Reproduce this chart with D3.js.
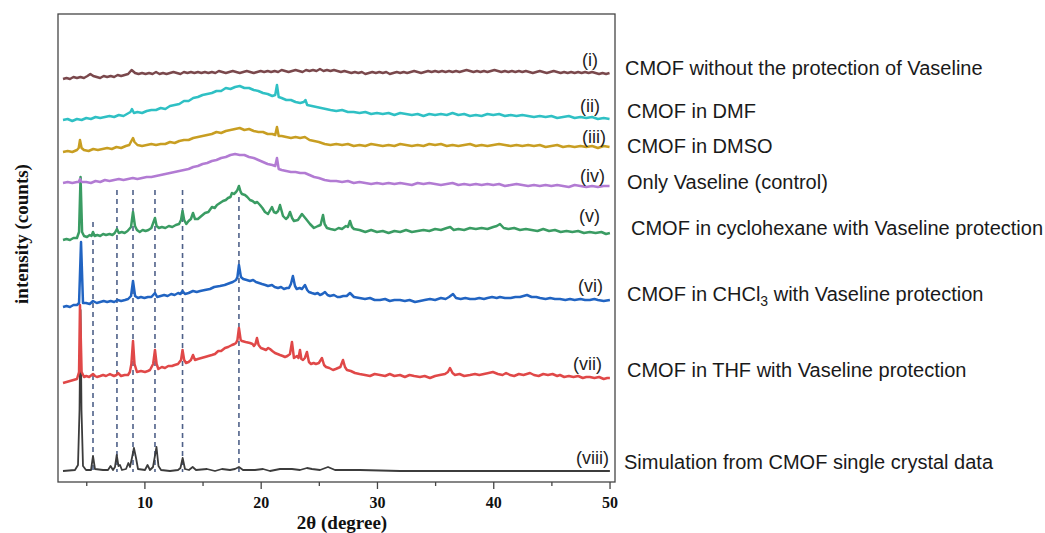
<!DOCTYPE html>
<html>
<head>
<meta charset="utf-8">
<script src="https://cdn.jsdelivr.net/npm/d3@7"></script>
<style>
  html, body { margin: 0; padding: 0; background: #ffffff; }
  svg { display: block; }
</style>
</head>
<body>
<svg id="chart" width="1045" height="533"></svg>
<script>
// ---------------- DATA ----------------
// 2θ (degree) vs stacked intensity (arbitrary counts, already offset)
const seriesI = [[3.0,403],[3.3,404],[3.6,403],[3.9,405],[4.2,404],[4.5,405],[4.8,404],[5.1,406],[5.35,408],[5.6,406],[5.9,405],[6.2,404],[6.5,406],[6.8,405],[7.1,406],[7.4,405],[7.7,407],[8.0,406],[8.3,407],[8.6,408],[8.9,412],[9.2,409],[9.5,408],[9.8,409],[10.1,408],[10.4,409],[10.7,408],[11.0,410],[11.3,408],[11.6,409],[11.9,408],[12.2,409],[12.5,410],[12.8,409],[13.1,408],[13.4,410],[13.7,409],[14.0,410],[14.3,409],[14.6,410],[14.9,409],[15.2,410],[15.5,409],[15.8,410],[16.1,409],[16.4,411],[16.7,410],[17.0,409],[17.3,410],[17.6,411],[17.9,410],[18.2,409],[18.5,410],[18.8,411],[19.1,410],[19.4,409],[19.7,410],[20.0,411],[20.3,410],[20.6,411],[20.9,410],[21.2,411],[21.5,410],[21.8,412],[22.1,411],[22.4,410],[22.7,411],[23.0,412],[23.3,411],[23.6,410],[23.9,412],[24.2,411],[24.5,412],[24.8,411],[25.1,413],[25.4,411],[25.7,412],[26.0,411],[26.3,412],[26.6,411],[26.9,410],[27.2,411],[27.5,410],[27.8,409],[28.1,410],[28.4,409],[28.7,410],[29.0,408],[29.3,409],[29.6,410],[29.9,409],[30.2,410],[30.5,409],[30.8,410],[31.1,408],[31.4,409],[31.7,410],[32.0,409],[32.3,410],[32.6,409],[32.9,410],[33.2,411],[33.5,410],[33.8,409],[34.1,410],[34.4,411],[34.7,410],[35.0,411],[35.3,410],[35.6,411],[35.9,410],[36.2,411],[36.5,410],[36.8,411],[37.1,410],[37.4,411],[37.7,412],[38.0,411],[38.3,410],[38.6,411],[38.9,410],[39.2,411],[39.5,410],[39.8,411],[40.1,412],[40.4,411],[40.7,410],[41.0,411],[41.3,410],[41.6,411],[41.9,410],[42.2,411],[42.5,410],[42.8,411],[43.1,410],[43.4,409],[43.7,410],[44.0,411],[44.3,410],[44.6,409],[44.9,410],[45.2,411],[45.5,410],[45.8,409],[46.1,410],[46.4,409],[46.7,410],[47.0,409],[47.3,410],[47.6,409],[47.9,410],[48.2,409],[48.5,410],[48.8,409],[49.1,408],[49.4,409],[49.7,408],[50.0,409]];

const seriesII = [[3.0,362],[3.4,363],[3.8,361],[4.2,363],[4.6,362],[5.0,364],[5.4,363],[5.8,365],[6.2,364],[6.6,365],[7.0,366],[7.4,365],[7.8,367],[8.2,366],[8.5,368],[8.8,370],[8.93,373],[9.1,369],[9.4,370],[9.8,369],[10.2,371],[10.6,372],[11.0,372],[11.4,374],[11.8,373],[12.2,376],[12.6,377],[13.0,378],[13.4,381],[13.8,381],[14.2,384],[14.6,385],[15.0,387],[15.4,388],[15.8,389],[16.2,391],[16.6,391],[17.0,394],[17.4,393],[17.8,395],[18.2,396],[18.6,394],[19.0,394],[19.4,392],[19.8,391],[20.2,389],[20.6,388],[21.0,386],[21.25,387],[21.4,397],[21.55,385],[21.8,384],[22.2,382],[22.6,382],[23.0,380],[23.4,379],[23.7,380],[23.85,382],[24.0,377],[24.4,376],[24.8,375],[25.2,374],[25.6,373],[26.0,372],[26.5,371],[27.0,372],[27.5,370],[28.0,370],[28.5,369],[29.0,370],[29.5,368],[30.0,369],[30.5,368],[31.0,369],[31.5,367],[32.0,369],[32.5,368],[33.0,367],[33.5,368],[34.0,366],[34.5,368],[35.0,367],[35.5,368],[36.0,367],[36.5,369],[37.0,367],[37.5,368],[38.0,366],[38.5,367],[39.0,366],[39.5,368],[40.0,367],[40.5,368],[41.0,366],[41.5,367],[42.0,366],[42.5,367],[43.0,366],[43.5,365],[44.0,366],[44.5,365],[45.0,366],[45.5,364],[46.0,365],[46.5,366],[47.0,364],[47.5,365],[48.0,364],[48.5,365],[49.0,363],[49.5,364],[50.0,363]];

const seriesIII = [[3.0,330],[3.4,331],[3.8,330],[4.2,332],[4.35,334],[4.46,342],[4.6,334],[4.8,332],[5.2,331],[5.6,333],[6.0,332],[6.4,333],[6.8,334],[7.2,333],[7.6,335],[8.0,334],[8.4,336],[8.7,337],[8.88,341],[9.02,344],[9.15,340],[9.4,337],[9.8,336],[10.2,337],[10.6,338],[11.0,337],[11.4,338],[11.8,338],[12.2,340],[12.6,339],[13.0,341],[13.4,342],[13.8,342],[14.2,344],[14.6,345],[15.0,346],[15.4,347],[15.8,348],[16.2,350],[16.6,349],[17.0,351],[17.4,352],[17.8,353],[18.2,354],[18.6,352],[19.0,353],[19.4,351],[19.8,350],[20.2,350],[20.6,348],[21.0,348],[21.25,347],[21.4,355],[21.55,346],[21.8,346],[22.2,345],[22.6,344],[23.0,345],[23.4,344],[23.8,345],[24.2,342],[24.6,341],[25.0,340],[25.5,338],[26.0,337],[26.5,338],[27.0,337],[27.5,338],[28.0,336],[28.5,337],[29.0,336],[29.5,338],[30.0,337],[30.5,336],[31.0,337],[31.5,336],[32.0,338],[32.5,337],[33.0,336],[33.5,337],[34.0,336],[34.5,338],[35.0,337],[35.5,338],[36.0,336],[36.5,337],[37.0,336],[37.5,337],[38.0,338],[38.5,336],[39.0,337],[39.5,336],[40.0,337],[40.5,338],[41.0,337],[41.5,336],[42.0,337],[42.5,336],[43.0,337],[43.5,336],[44.0,337],[44.5,335],[45.0,336],[45.5,337],[46.0,335],[46.5,336],[47.0,335],[47.5,336],[48.0,335],[48.5,336],[49.0,334],[49.5,336],[50.0,335]];

const seriesIV = [[3.0,299],[3.4,300],[3.8,299],[4.2,300],[4.35,300],[4.46,303],[4.6,300],[5.0,300],[5.4,299],[5.8,301],[6.2,300],[6.6,302],[7.0,301],[7.4,302],[7.8,303],[8.2,302],[8.6,303],[9.0,304],[9.4,303],[9.8,304],[10.2,305],[10.6,305],[11.0,306],[11.4,307],[11.8,308],[12.2,309],[12.6,310],[13.0,311],[13.4,312],[13.8,313],[14.2,315],[14.6,316],[15.0,318],[15.4,319],[15.8,321],[16.2,322],[16.6,324],[17.0,325],[17.4,327],[17.8,328],[18.2,327],[18.6,327],[19.0,325],[19.4,324],[19.8,322],[20.2,320],[20.6,318],[21.0,317],[21.25,316],[21.4,324],[21.55,313],[21.8,312],[22.2,311],[22.6,310],[23.0,310],[23.4,309],[23.8,309],[24.2,307],[24.6,305],[25.0,304],[25.5,302],[26.0,301],[26.5,301],[27.0,300],[27.5,301],[28.0,299],[28.5,300],[29.0,299],[29.5,298],[30.0,299],[30.5,298],[31.0,299],[31.5,298],[32.0,299],[32.5,298],[33.0,297],[33.5,299],[34.0,298],[34.5,299],[35.0,298],[35.5,297],[36.0,298],[36.5,299],[37.0,297],[37.5,298],[38.0,297],[38.5,298],[39.0,297],[39.5,298],[40.0,297],[40.5,298],[41.0,296],[41.5,297],[42.0,298],[42.5,297],[43.0,296],[43.5,297],[44.0,296],[44.5,297],[45.0,296],[45.5,297],[46.0,296],[46.5,295],[47.0,297],[47.5,296],[48.0,295],[48.5,296],[49.0,295],[49.5,296],[50.0,296]];

const seriesV = [[3.0,242],[3.3,243],[3.6,242],[3.9,244],[4.2,244],[4.38,250],[4.51,305],[4.64,250],[4.81,246],[5.06,245],[5.3,247],[5.45,246],[5.58,250],[5.72,246],[5.95,247],[6.2,246],[6.45,248],[6.7,247],[7.0,248],[7.25,247],[7.45,249],[7.64,253],[7.8,249],[8.05,250],[8.3,249],[8.55,251],[8.85,255],[9.02,270],[9.19,256],[9.36,252],[9.6,250],[9.85,252],[10.1,251],[10.35,252],[10.6,254],[10.91,264],[11.05,256],[11.25,254],[11.5,255],[11.8,254],[12.1,256],[12.4,255],[12.7,257],[12.98,258],[13.15,262],[13.28,271],[13.42,262],[13.6,258],[13.8,261],[14.0,263],[14.18,269],[14.35,263],[14.6,263],[14.9,266],[15.21,269],[15.5,270],[15.81,275],[16.05,274],[16.24,277],[16.5,279],[16.76,281],[17.0,282],[17.19,284],[17.4,285],[17.53,289],[17.7,288],[17.88,290],[18.0,292],[18.13,296],[18.28,290],[18.39,288],[18.65,287],[18.85,285],[19.08,282],[19.3,281],[19.51,279],[19.7,280],[19.94,277],[20.15,274],[20.37,270],[20.63,268],[20.97,275],[21.14,270],[21.32,269],[21.5,271],[21.66,277],[21.92,266],[22.17,263],[22.35,265],[22.52,270],[22.7,264],[22.86,261],[23.2,262],[23.55,268],[23.9,263],[24.24,258],[24.58,254],[24.93,256],[25.15,257],[25.36,267],[25.5,258],[25.7,254],[26.0,253],[26.39,252],[26.7,254],[26.99,253],[27.33,256],[27.5,255],[27.68,261],[27.85,255],[28.02,253],[28.5,252],[29.0,250],[29.5,252],[30.0,250],[30.5,251],[31.0,249],[31.5,251],[32.0,250],[32.5,252],[33.0,250],[33.5,251],[34.0,252],[34.5,251],[35.0,253],[35.5,252],[36.0,254],[36.3,255],[36.6,252],[37.0,253],[37.5,252],[38.0,254],[38.5,253],[39.0,254],[39.5,253],[40.0,255],[40.3,256],[40.58,258],[40.9,254],[41.3,253],[41.8,254],[42.3,252],[42.8,253],[43.3,252],[43.8,251],[44.3,253],[44.8,251],[45.3,252],[45.8,250],[46.3,251],[46.8,250],[47.3,251],[47.8,249],[48.3,250],[48.8,249],[49.3,250],[49.7,248],[50.03,249]];

const seriesVI = [[3.0,175],[3.3,176],[3.6,175],[3.9,177],[4.2,177],[4.38,179],[4.55,240],[4.72,179],[4.98,179],[5.3,178],[5.58,181],[5.9,179],[6.2,180],[6.5,181],[6.8,180],[7.1,181],[7.4,180],[7.7,182],[8.0,181],[8.33,182],[8.6,183],[8.85,186],[9.02,201],[9.2,186],[9.45,184],[9.7,185],[10.0,184],[10.3,185],[10.6,185],[10.91,189],[11.1,185],[11.4,186],[11.7,187],[12.0,186],[12.3,188],[12.6,187],[12.9,189],[13.1,188],[13.28,191],[13.49,188],[13.8,189],[14.18,191],[14.5,190],[14.8,191],[15.2,192],[15.64,193],[16.0,195],[16.5,196],[16.9,197],[17.36,199],[17.6,200],[17.88,202],[18.0,205],[18.13,217],[18.3,205],[18.5,203],[18.8,202],[19.08,201],[19.35,202],[19.59,200],[19.85,199],[20.11,198],[20.4,197],[20.63,196],[20.97,197],[21.2,195],[21.49,194],[21.75,195],[22.0,193],[22.25,194],[22.43,194],[22.6,198],[22.77,206],[22.95,196],[23.1,193],[23.35,194],[23.55,193],[23.81,197],[24.0,192],[24.15,190],[24.4,189],[24.67,188],[24.9,189],[25.1,187],[25.3,188],[25.53,190],[25.75,187],[25.96,186],[26.3,187],[26.6,185],[26.82,185],[27.1,186],[27.4,186],[27.68,189],[28.02,185],[28.5,184],[28.97,183],[29.4,184],[29.8,182],[30.26,182],[30.7,183],[31.1,181],[31.5,182],[31.98,182],[32.4,181],[32.8,182],[33.27,180],[33.7,181],[34.1,182],[34.56,183],[35.0,182],[35.5,184],[35.9,183],[36.2,185],[36.54,188],[36.8,184],[37.2,183],[37.6,184],[38.0,183],[38.43,183],[38.8,184],[39.2,183],[39.5,184],[39.9,185],[40.3,184],[40.58,185],[41.0,184],[41.5,184],[41.9,185],[42.3,185],[42.6,186],[42.9,187],[43.3,185],[43.7,185],[44.02,184],[44.5,183],[44.9,184],[45.3,183],[45.74,183],[46.2,182],[46.6,183],[47.0,182],[47.5,183],[47.89,182],[48.3,182],[48.7,183],[49.0,182],[49.5,181],[50.03,182]];

const seriesVII = [[3.0,99],[3.3,100],[3.6,101],[3.9,102],[4.2,103],[4.38,110],[4.46,177],[4.6,110],[4.81,105],[5.0,106],[5.25,105],[5.58,108],[5.75,106],[5.92,105],[6.2,106],[6.45,107],[6.7,106],[7.04,108],[7.2,107],[7.39,106],[7.6,107],[7.73,109],[7.99,106],[8.3,107],[8.59,107],[8.75,110],[8.88,118],[9.02,141],[9.15,118],[9.36,110],[9.7,111],[10.05,110],[10.3,111],[10.48,112],[10.75,118],[10.91,132],[11.05,118],[11.2,113],[11.5,115],[11.77,114],[12.05,116],[12.37,116],[12.6,117],[12.89,118],[13.15,122],[13.28,132],[13.42,122],[13.58,119],[13.8,120],[14.0,122],[14.18,127],[14.35,122],[14.6,123],[14.9,124],[15.21,125],[15.5,126],[15.8,127],[16.07,128],[16.35,131],[16.6,131],[16.93,134],[17.2,135],[17.53,137],[17.75,138],[17.88,139],[18.0,142],[18.13,154],[18.28,142],[18.39,141],[18.7,140],[19.08,139],[19.3,138],[19.42,136],[19.55,138],[19.68,144],[19.82,137],[20.02,134],[20.25,133],[20.45,132],[20.65,134],[20.8,133],[21.0,131],[21.23,129],[21.45,128],[21.66,127],[21.9,126],[22.09,125],[22.3,126],[22.52,128],[22.69,140],[22.86,124],[23.0,125],[23.12,126],[23.25,124],[23.38,132],[23.5,123],[23.64,122],[23.8,124],[23.98,130],[24.15,120],[24.33,118],[24.55,119],[24.75,118],[25.0,119],[25.27,124],[25.45,117],[25.62,115],[25.9,114],[26.22,112],[26.45,113],[26.65,114],[26.85,115],[27.08,122],[27.25,115],[27.42,112],[27.75,111],[28.11,109],[28.5,108],[28.97,107],[29.4,106],[29.8,108],[30.26,107],[30.7,106],[31.1,108],[31.5,106],[31.98,107],[32.4,105],[32.8,107],[33.2,106],[33.7,105],[34.1,106],[34.56,104],[35.0,106],[35.4,107],[35.85,108],[36.1,110],[36.28,114],[36.5,109],[36.71,107],[37.1,108],[37.5,106],[38.0,107],[38.43,108],[38.8,107],[39.2,108],[39.6,109],[39.97,110],[40.4,108],[40.8,107],[41.1,109],[41.44,107],[41.8,106],[42.2,108],[42.6,107],[43.16,109],[43.5,107],[43.9,106],[44.3,108],[44.7,107],[45.1,108],[45.5,106],[45.74,107],[46.1,105],[46.5,106],[46.9,105],[47.3,106],[47.7,104],[48.0,105],[48.31,105],[48.7,104],[49.1,105],[49.5,103],[49.8,104],[50.03,104]];

const seriesVIII = [[3.0,11],[4.03,12],[4.29,17],[4.42,72],[4.51,172],[4.59,72],[4.72,16],[4.98,12],[5.41,12],[5.58,26],[5.75,13],[6.44,12],[6.87,12],[7.09,16],[7.3,12],[7.47,15],[7.62,27],[7.77,16],[7.9,17],[8.07,12],[8.42,13],[8.62,19],[8.76,15],[8.93,24],[9.1,34],[9.28,24],[9.45,13],[10.05,12],[10.27,17],[10.48,12],[10.74,15],[11.04,35],[11.21,16],[11.43,12],[12.2,11],[12.89,12],[13.1,14],[13.29,24],[13.49,13],[13.83,12],[14.15,15],[14.44,12],[15.38,13],[16.07,11],[16.67,13],[17.36,12],[17.79,13],[18.13,15],[18.48,12],[19.51,12],[20.2,13],[20.8,11],[21.66,13],[22.69,13],[23.38,12],[23.98,14],[24.41,13],[25.1,12],[25.79,15],[26.39,12],[28.54,12],[31.98,11],[36.28,11],[40.58,11],[44.88,11],[50.03,11]];

const romanLabels = ["(i)", "(ii)", "(iii)", "(iv)", "(v)", "(vi)", "(vii)", "(viii)"];
const legendLabels = [
  "CMOF without the protection of Vaseline",
  "CMOF in DMF",
  "CMOF in DMSO",
  "Only Vaseline (control)",
  "CMOF in cyclohexane with Vaseline protection",
  "CMOF in CHCl|3| with Vaseline protection",
  "CMOF in THF with Vaseline protection",
  "Simulation from CMOF single crystal data"
];
const seriesColors = ["#7a484c", "#2fc0c4", "#c89e22", "#b27bd3", "#3a9c63", "#2164c2", "#e04848", "#3c3c3c"];
// reference reflections (2θ) and top of guide line (intensity)
const refPeaks = [5.58, 7.64, 9.02, 10.91, 13.28, 18.13];
const refPeakTop = [260, 292, 292, 292, 292, 285];
const refPeakBottom = 10;
const majorTicks = [10, 20, 30, 40, 50];
const minorTicks = [5, 15, 25, 35, 45];
const xTitle = "2θ (degree)";
const yTitle = "intensity (counts)";

const allSeries = [seriesI, seriesII, seriesIII, seriesIV, seriesV, seriesVI, seriesVII, seriesVIII];

// ---------------- LAYOUT ----------------
const plot = { left: 58, right: 615, top: 14, bottom: 482 };
const x = d3.scaleLinear().domain([2.57, 50.47]).range([plot.left, plot.right]);
const y = d3.scaleLinear().domain([0, 468]).range([plot.bottom, plot.top]);

const svg = d3.select("#chart");

// reference guide lines
svg.append("g").selectAll("line").data(refPeaks).join("line")
  .attr("x1", d => x(d)).attr("x2", d => x(d))
  .attr("y1", (d, i) => y(refPeakTop[i])).attr("y2", y(refPeakBottom))
  .attr("stroke", "#4f6189").attr("stroke-width", 1.6)
  .attr("stroke-dasharray", "5,4");

// series
const line = d3.line().x(d => x(d[0])).y(d => y(d[1]));
const order = d3.range(allSeries.length).reverse();
svg.append("g").selectAll("path").data(order).join("path")
  .attr("d", i => line(allSeries[i]))
  .attr("fill", "none")
  .attr("stroke", i => seriesColors[i])
  .attr("stroke-width", i => i === 7 ? 1.8 : 2.5)
  .attr("stroke-linejoin", "round");

// frame
svg.append("rect")
  .attr("x", plot.left).attr("y", plot.top)
  .attr("width", plot.right - plot.left).attr("height", plot.bottom - plot.top)
  .attr("fill", "none").attr("stroke", "#454545").attr("stroke-width", 1.3);

// x axis
const axisMajor = d3.axisBottom(x).tickValues(majorTicks).tickSize(7).tickPadding(8).tickFormat(d3.format("d"));
const gx = svg.append("g").attr("transform", `translate(0,${plot.bottom})`).call(axisMajor);
gx.select(".domain").remove();
gx.selectAll("line").attr("stroke", "#454545").attr("stroke-width", 1.3);
gx.selectAll("text").attr("font-family", "'Liberation Serif', 'Times New Roman', serif")
  .attr("font-weight", "bold").attr("font-size", 16).attr("fill", "#111");

const axisMinor = d3.axisBottom(x).tickValues(minorTicks).tickSize(4).tickFormat("");
const gxm = svg.append("g").attr("transform", `translate(0,${plot.bottom})`).call(axisMinor);
gxm.select(".domain").remove();
gxm.selectAll("line").attr("stroke", "#454545").attr("stroke-width", 1.3);

// axis titles
svg.append("text")
  .attr("x", 342).attr("y", 529)
  .attr("text-anchor", "middle")
  .attr("font-family", "'Liberation Serif', 'Times New Roman', serif")
  .attr("font-weight", "bold").attr("font-size", 19).attr("fill", "#111")
  .text(xTitle);

svg.append("text")
  .attr("transform", "translate(28,234) rotate(-90)")
  .attr("text-anchor", "middle")
  .attr("font-family", "'Liberation Serif', 'Times New Roman', serif")
  .attr("font-weight", "bold").attr("font-size", 19).attr("fill", "#111")
  .text(yTitle);

// roman labels, anchored above each trace's right end
const romanRight = [598, 600, 606, 605, 600, 603, 602, 609];
const romanLift = [13, 13, 10, 10, 17, 14, 14, 13];
svg.append("g").selectAll("text").data(romanLabels).join("text")
  .attr("x", (d, i) => romanRight[i])
  .attr("y", (d, i) => y(allSeries[i][allSeries[i].length - 1][1]) - romanLift[i])
  .attr("dy", "0.35em")
  .attr("text-anchor", "end")
  .attr("font-family", "'Liberation Sans', Arial, sans-serif")
  .attr("font-size", 18).attr("fill", "#222")
  .text(d => d);

// legend text
const legendX = [625, 627, 627, 627, 631, 627, 627, 624];
const legendShift = [-5, -8, -1, -4, -5, -6, -8, -9];
const lg = svg.append("g");
legendLabels.forEach((lab, i) => {
  const t = lg.append("text")
    .attr("x", legendX[i])
    .attr("y", y(allSeries[i][allSeries[i].length - 1][1]) + legendShift[i])
    .attr("dy", "0.35em")
    .attr("font-family", "'Liberation Sans', Arial, sans-serif")
    .attr("font-size", 20).attr("fill", "#1a1a1a");
  const parts = lab.split("|");
  parts.forEach((p, k) => {
    if (k % 2 === 1) {
      t.append("tspan").attr("font-size", 14).attr("dy", 5).text(p);
    } else if (k > 0) {
      t.append("tspan").attr("dy", -5).text(p);
    } else {
      t.append("tspan").text(p);
    }
  });
});
</script>
</body>
</html>
